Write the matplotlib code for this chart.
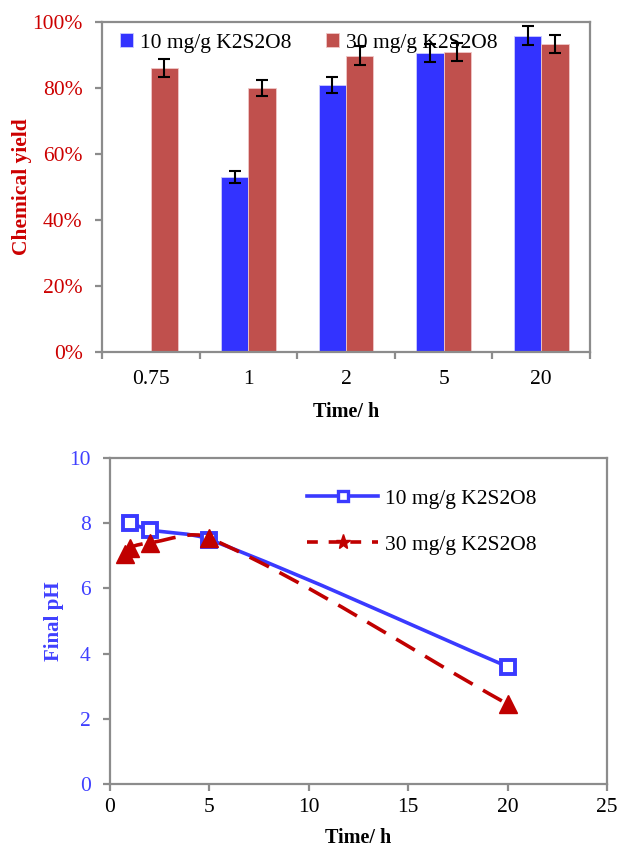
import numpy as np
import matplotlib
matplotlib.use("Agg")
import matplotlib.pyplot as plt
from matplotlib.path import Path
from matplotlib.patches import PathPatch
from matplotlib.lines import Line2D
from matplotlib.ticker import FuncFormatter

# ---- data -------------------------------------------------------------------
time_labels = ["0.75", "1", "2", "5", "20"]
yield_10 = [np.nan, 53.0, 80.8, 90.6, 95.9]     # % chemical yield, 10 mg/g
yield_10_err = [np.nan, 1.7, 2.4, 2.7, 2.9]
yield_30 = [86.1, 80.0, 89.8, 91.0, 93.4]       # % chemical yield, 30 mg/g
yield_30_err = [2.7, 2.4, 2.8, 2.7, 2.8]

ph_time_10 = [1, 2, 5, 20]
ph_10 = [8.0, 7.8, 7.5, 3.6]
ph_time_30 = [0.75, 1, 2, 5, 20]
ph_30 = [7.05, 7.25, 7.4, 7.55, 2.45]

series_labels = ["10 mg/g K2S2O8", "30 mg/g K2S2O8"]

plt.rcParams["font.family"] = ["Liberation Serif", "DejaVu Serif"]
plt.rcParams["font.size"] = 15.5

GREY = "#8c8c8c"
BLUE_BAR = "#3333ff"
RED_BAR = "#c0504d"
RED_TXT = "#cc0000"
BLUE_TXT = "#4040ff"
BLUE_LN = "#3a3aff"
RED_LN = "#c00000"

W, H = 619, 851
fig = plt.figure(figsize=(W / 100, H / 100), dpi=100)


def box(ax):
    for s in ax.spines.values():
        s.set_color(GREY)
        s.set_linewidth(1.6)
    ax.tick_params(which="both", color=GREY, width=1.6, length=5, direction="out")


def px_axes(l, t, r, b):
    return fig.add_axes([l / W, 1 - b / H, (r - l) / W, (b - t) / H])


# ---- top: chemical yield bars ----------------------------------------------
ax1 = px_axes(102, 22, 590, 352)
box(ax1)
x = np.arange(len(time_labels))
bw = 0.28
ekw = dict(ecolor="black", elinewidth=1.5, capsize=4.5, capthick=1.5)
ax1.bar(x - bw / 2, yield_10, bw, color=BLUE_BAR, edgecolor="#ccccff", linewidth=0.6,
        yerr=yield_10_err, error_kw=ekw, label=series_labels[0], zorder=2)
ax1.bar(x + bw / 2, yield_30, bw, color=RED_BAR, edgecolor="#f0c8c8", linewidth=0.6,
        yerr=yield_30_err, error_kw=ekw, label=series_labels[1], zorder=2)
ax1.set_xlim(-0.5, len(time_labels) - 0.5)
ax1.set_ylim(0, 100)
ax1.set_yticks(np.arange(0, 101, 20))
ax1.yaxis.set_major_formatter(FuncFormatter(lambda v, p: f"{v:.0f}%"))
ax1.tick_params(axis="y", colors=GREY, labelcolor=RED_TXT, pad=9)
ax1.set_xticks(np.arange(-0.5, len(time_labels)), minor=False)
ax1.set_xticklabels([])
ax1.set_xticks(x, minor=True)
ax1.set_xticklabels(time_labels, minor=True)
ax1.tick_params(axis="x", which="minor", length=0, pad=13)
ax1.set_ylabel("Chemical yield", color=RED_TXT, fontweight="bold", labelpad=0,
               fontsize=15.5)
ax1.set_xlabel("Time/ h", fontweight="bold", labelpad=9, fontsize=14.5)
ax1.legend(loc="upper left", bbox_to_anchor=(0.01, 1.005), ncol=2, frameon=False,
           handlelength=0.6, handleheight=0.6, handletextpad=0.33,
           columnspacing=1.6, borderaxespad=0.2)

# ---- bottom: final pH -------------------------------------------------------
ax2 = px_axes(110, 458, 607, 784)
box(ax2)
ax2.set_xlim(0, 25)
ax2.set_ylim(0, 10)
ax2.set_xticks(np.arange(0, 26, 5))
ax2.set_yticks(np.arange(0, 11, 2))
ax2.tick_params(axis="y", labelcolor=BLUE_TXT, pad=9)
ax2.tick_params(axis="x", labelcolor="black", pad=5)
ax2.set_ylabel("Final pH", color=BLUE_TXT, fontweight="bold", labelpad=4,
               fontsize=15)
ax2.set_xlabel("Time/ h", fontweight="bold", labelpad=8, fontsize=14.5)


def smooth_line(ax, xs, ys, **kw):
    """Spreadsheet-style smoothed line: cubic Bezier through every point,
    tangents taken from neighbours in display space."""
    pts = ax.transData.transform(np.column_stack([xs, ys]))
    n = len(pts)
    verts = [pts[0]]
    codes = [Path.MOVETO]
    tan = []
    for i in range(n):
        a = pts[max(i - 1, 0)]
        b = pts[min(i + 1, n - 1)]
        d = b - a
        tan.append(d / np.hypot(*d))
    for i in range(n - 1):
        seg = np.hypot(*(pts[i + 1] - pts[i])) / 3
        verts += [pts[i] + tan[i] * seg, pts[i + 1] - tan[i + 1] * seg, pts[i + 1]]
        codes += [Path.CURVE4] * 3
    path = Path(ax.transData.inverted().transform(np.array(verts)), codes)
    ax.add_patch(PathPatch(path, fill=False, **kw))


smooth_line(ax2, ph_time_10, ph_10, edgecolor=BLUE_LN, linewidth=2.6, zorder=3)
smooth_line(ax2, ph_time_30, ph_30, edgecolor=RED_LN, linewidth=2.6,
            linestyle=(0, (6.0, 3.3)), zorder=3)
ax2.plot(ph_time_10, ph_10, ls="none", marker="s", ms=10.5, mfc="white",
         mec=BLUE_LN, mew=2.8, zorder=4)
ax2.plot(ph_time_30, ph_30, ls="none", marker="^", ms=13.5, mfc=RED_LN,
         mec=RED_LN, mew=1, zorder=4)

handles = [
    Line2D([], [], color=BLUE_LN, lw=2.6, marker="s", ms=7.5, mfc="white",
           mec=BLUE_LN, mew=2.4),
    Line2D([], [], color=RED_LN, lw=2.6, ls=(0, (3.0, 3.0)), marker="*", ms=11,
           mfc=RED_LN, mec=RED_LN),
]
ax2.legend(handles, series_labels, loc="upper left", bbox_to_anchor=(0.358, 0.965),
           frameon=False, handlelength=3.3, handletextpad=0.3, labelspacing=1.2)

fig.savefig("out.png", dpi=100)
